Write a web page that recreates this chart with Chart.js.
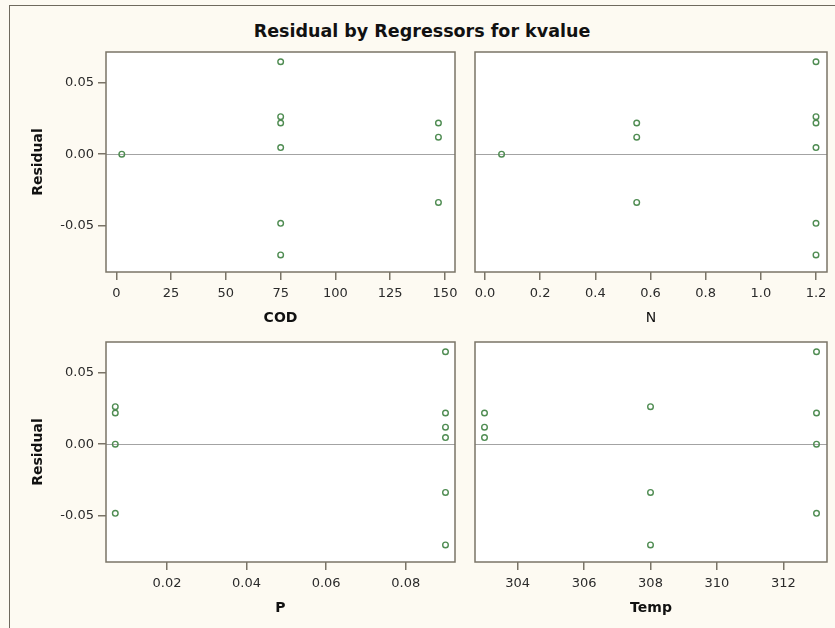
<!DOCTYPE html>
<html>
<head>
<meta charset="utf-8">
<script src="https://cdn.jsdelivr.net/npm/chart.js@4.4.1/dist/chart.umd.min.js"></script>
<style>
  html, body { margin: 0; padding: 0; background: #fdfaf2; }
  #wrap { position: relative; width: 835px; height: 628px; background: #fdfaf2; overflow: hidden; }
  #frame { position: absolute; left: 9px; top: 5px; width: 840px; height: 640px;
           border-left: 1.5px solid #6f6a5e; border-top: 1.5px solid #6f6a5e; }
  #title { position: absolute; left: 9px; width: 826px; top: 20px; text-align: center;
           font-family: "DejaVu Sans", sans-serif; font-weight: bold; font-size: 17.5px; color: #111; line-height: 22px; }
  canvas { position: absolute; }
</style>
</head>
<body>
<div id="wrap">
  <div id="frame"></div>
  <div id="title">Residual by Regressors for kvalue</div>
  <canvas id="c1"></canvas>
  <canvas id="c2"></canvas>
  <canvas id="c3"></canvas>
  <canvas id="c4"></canvas>
</div>
<script>
// ---- data ----
const residual = [0.0643, 0.0261, 0.0217, 0.0046, 0.0000, -0.0481, -0.0701, 0.0217, 0.0118, -0.0336];
const COD  = [75, 75, 75, 75, 2.5, 75, 75, 147, 147, 147];
const N    = [1.2, 1.2, 1.2, 1.2, 0.06, 1.2, 1.2, 0.55, 0.55, 0.55];
const P    = [0.09, 0.007, 0.007, 0.09, 0.007, 0.007, 0.09, 0.09, 0.09, 0.09];
const Temp = [313, 308, 313, 303, 313, 313, 308, 303, 303, 308];

const residualTicks  = [-0.05, 0, 0.05];
const residualLabels = ["-0.05", "0.00", "0.05"];
const codTicks   = [0, 25, 50, 75, 100, 125, 150];
const codLabels  = ["0", "25", "50", "75", "100", "125", "150"];
const nTicks     = [0, 0.2, 0.4, 0.6, 0.8, 1.0, 1.2];
const nLabels    = ["0.0", "0.2", "0.4", "0.6", "0.8", "1.0", "1.2"];
const pTicks     = [0.02, 0.04, 0.06, 0.08];
const pLabels    = ["0.02", "0.04", "0.06", "0.08"];
const tempTicks  = [304, 306, 308, 310, 312];
const tempLabels = ["304", "306", "308", "310", "312"];

// ---- styling / layout ----
const FONT = '"DejaVu Sans", sans-serif';
const frameColor = '#7a7467';
const pointColor = '#4f8c52';
const Y_RANGE = [-0.082, 0.0711];
const PAD_T = 20, PAD_R = 25, Y_AXIS_W = 96, PAD_L_NOAXIS = 20, X_AXIS_H = 55;

const panels = [
  { id: 'c1', xs: COD,  xt: codTicks,  xl: codLabels,  title: 'COD',  bold: true,  range: [-4.70, 154.56], yAxis: true,  area: [106, 52, 455, 272] },
  { id: 'c2', xs: N,    xt: nTicks,    xl: nLabels,    title: 'N',    bold: false, range: [-0.0363, 1.2399], yAxis: false, area: [475, 52, 827, 272] },
  { id: 'c3', xs: P,    xt: pTicks,    xl: pLabels,    title: 'P',    bold: true,  range: [0.004666, 0.09239], yAxis: true,  area: [106, 342, 455, 562] },
  { id: 'c4', xs: Temp, xt: tempTicks, xl: tempLabels, title: 'Temp', bold: true,  range: [302.714, 313.316], yAxis: false, area: [475, 342, 827, 562] }
];

const panelPlugin = {
  id: 'panelDecor',
  beforeDatasetsDraw(chart) {
    const { ctx, chartArea: a, scales } = chart;
    ctx.save();
    ctx.fillStyle = '#ffffff';
    ctx.fillRect(a.left, a.top, a.right - a.left, a.bottom - a.top);
    const y0 = Math.round(scales.y.getPixelForValue(0)) + 0.5;
    ctx.strokeStyle = '#a3a3a3';
    ctx.lineWidth = 1;
    ctx.beginPath();
    ctx.moveTo(a.left, y0);
    ctx.lineTo(a.right, y0);
    ctx.stroke();
    ctx.restore();
  },
  afterDraw(chart) {
    const { ctx, chartArea: a } = chart;
    ctx.save();
    ctx.strokeStyle = frameColor;
    ctx.lineWidth = 1.5;
    ctx.strokeRect(a.left, a.top, a.right - a.left, a.bottom - a.top);
    ctx.restore();
  }
};

panels.forEach(p => {
  const [l, t, r, b] = p.area;
  const leftSpace = p.yAxis ? Y_AXIS_W : PAD_L_NOAXIS;
  const cv = document.getElementById(p.id);
  const w = leftSpace + (r - l) + PAD_R;
  const h = PAD_T + (b - t) + X_AXIS_H;
  cv.width = w; cv.height = h;
  cv.style.width = w + 'px'; cv.style.height = h + 'px';
  cv.style.left = (l - leftSpace) + 'px';
  cv.style.top = (t - PAD_T) + 'px';

  new Chart(cv, {
    type: 'scatter',
    data: {
      datasets: [{
        data: p.xs.map((x, i) => ({ x: x, y: residual[i] })),
        pointStyle: 'circle',
        pointRadius: 2.8,
        pointHoverRadius: 2.8,
        pointBorderWidth: 1.4,
        borderColor: pointColor,
        backgroundColor: 'rgba(255,255,255,0)'
      }]
    },
    options: {
      responsive: false,
      animation: false,
      devicePixelRatio: 1,
      events: [],
      layout: { padding: { top: PAD_T, right: PAD_R, bottom: 0, left: p.yAxis ? 0 : PAD_L_NOAXIS } },
      plugins: { legend: { display: false }, tooltip: { enabled: false }, title: { display: false } },
      scales: {
        x: {
          type: 'linear',
          min: p.range[0], max: p.range[1],
          afterBuildTicks: (axis) => { axis.ticks = p.xt.map(v => ({ value: v })); },
          afterFit: (axis) => { axis.height = X_AXIS_H; },
          ticks: {
            autoSkip: false, maxRotation: 0, padding: 6,
            color: '#2b2b2b', font: { family: FONT, size: 13 },
            callback: (v, i) => p.xl[i]
          },
          grid: { drawOnChartArea: false, drawTicks: true, tickLength: 8, color: frameColor, lineWidth: 1.5 },
          border: { display: false },
          title: {
            display: true, text: p.title, color: '#111',
            font: { family: FONT, size: 14, weight: p.bold ? 'bold' : 'normal' },
            padding: { top: 3, bottom: 0 }
          }
        },
        y: {
          type: 'linear',
          display: p.yAxis,
          min: Y_RANGE[0], max: Y_RANGE[1],
          afterBuildTicks: (axis) => { axis.ticks = residualTicks.map(v => ({ value: v })); },
          afterFit: (axis) => { axis.width = p.yAxis ? Y_AXIS_W : 0; },
          ticks: {
            autoSkip: false, padding: 4,
            color: '#2b2b2b', font: { family: FONT, size: 13 },
            callback: (v, i) => residualLabels[i]
          },
          grid: { drawOnChartArea: false, drawTicks: true, tickLength: 8, color: frameColor, lineWidth: 1.5 },
          border: { display: false },
          title: {
            display: true, text: 'Residual', color: '#111',
            font: { family: FONT, size: 14, weight: 'bold' },
            padding: { top: 20, bottom: 0 }
          }
        }
      }
    },
    plugins: [panelPlugin]
  });
});
</script>
</body>
</html>
